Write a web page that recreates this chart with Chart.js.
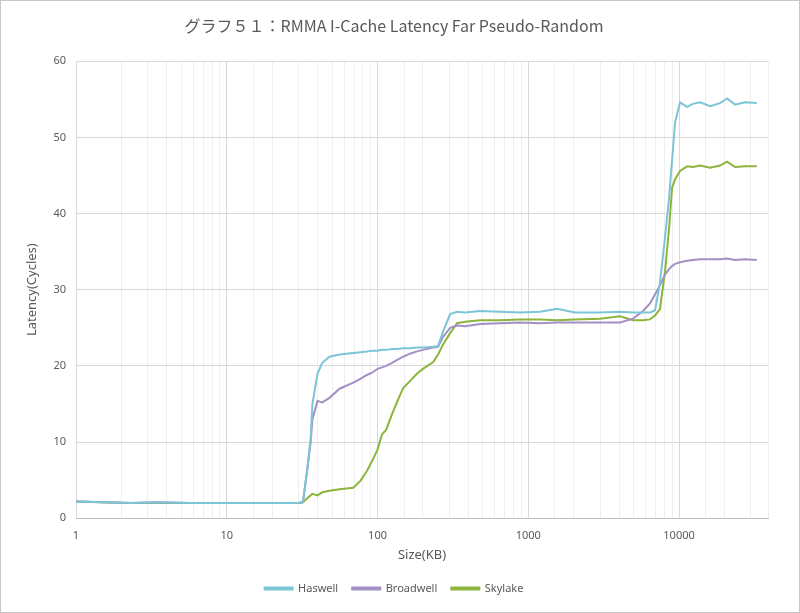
<!DOCTYPE html>
<html>
<head>
<meta charset="utf-8">
<script src="https://cdn.jsdelivr.net/npm/chart.js"></script>
<style>
  body { margin: 0; background: #fff; }
  #wrap { width: 800px; height: 613px; }
</style>
</head>
<body>
<div id="wrap"><canvas id="latencyChart" width="800" height="613"></canvas></div>
<script>
const sizesKB = [1, 1.5, 2.3, 3.5, 5.7, 10, 16, 26, 30, 32, 34, 36, 37, 40, 43, 48, 56, 69, 77, 85,
  92, 100, 107, 114, 125, 135, 148, 164, 183, 200, 234, 252, 272, 303, 337, 381, 479, 649, 882, 1200,
  1550, 2040, 2990, 4060, 4950, 5770, 6420, 6930, 7480, 8080, 8580, 8990, 9410, 10150, 11300, 12380,
  13780, 16060, 18710, 20820, 23520, 27400, 32768];

const haswell = [2.2, 2.1, 2.0, 2.1, 2.0, 2.0, 2.0, 2.0, 2.0, 2.1, 6, 10.5, 15, 19, 20.4, 21.2, 21.5, 21.7, 21.8, 21.9,
  22.0, 22.0, 22.1, 22.1, 22.2, 22.2, 22.3, 22.3, 22.4, 22.4, 22.5, 22.6, 24.5, 26.8, 27.1, 27.0, 27.2, 27.1, 27.0, 27.1,
  27.5, 27.0, 27.0, 27.1, 27.0, 27.0, 27.0, 27.3, 31, 37, 42, 47, 52, 54.6, 54.0, 54.4,
  54.6, 54.1, 54.5, 55.1, 54.3, 54.6, 54.5];

const broadwell = [2.2, 2.1, 2.0, 2.1, 2.0, 2.0, 2.0, 2.0, 2.0, 2.1, 6, 10, 13, 15.4, 15.2, 15.8, 17, 17.8, 18.3, 18.8,
  19.1, 19.6, 19.8, 20.0, 20.4, 20.8, 21.2, 21.6, 21.9, 22.1, 22.4, 22.5, 23.8, 25.0, 25.3, 25.2, 25.5, 25.6, 25.7, 25.6,
  25.7, 25.7, 25.7, 25.7, 26.2, 27.2, 28.2, 29.4, 30.6, 32.0, 32.7, 33.1, 33.4, 33.6, 33.8, 33.9,
  34.0, 34.0, 34.0, 34.1, 33.9, 34.0, 33.9];

const skylake = [2.2, 2.1, 2.0, 2.0, 2.0, 2.0, 2.0, 2.0, 2.0, 2.1, 2.6, 3.0, 3.2, 3.0, 3.4, 3.6, 3.8, 4.0, 4.9, 6.2,
  7.5, 9.0, 11.0, 11.6, 13.7, 15.3, 17.1, 18.0, 19.0, 19.6, 20.5, 21.5, 22.8, 24.3, 25.6, 25.8, 26.0, 26.0, 26.1, 26.1,
  26.0, 26.1, 26.2, 26.5, 26.0, 26.0, 26.1, 26.6, 27.5, 32.5, 38, 43.4, 44.5, 45.6, 46.2, 46.1,
  46.3, 46.0, 46.3, 46.8, 46.1, 46.2, 46.2];

const seriesNames = ['Haswell', 'Broadwell', 'Skylake'];
const seriesColors = ['#7cc5d6', '#a390c4', '#8db43c'];
const seriesValues = [haswell, broadwell, skylake];

const textColor = '#595959';
const fontFamily = '"Noto Sans", "Noto Sans CJK JP", sans-serif';

const isDecade = (v) => Math.abs(Math.log10(v) - Math.round(Math.log10(v))) < 1e-9;

const frame = {
  id: 'frame',
  afterDraw(chart) {
    const c = chart.ctx;
    c.save();
    c.strokeStyle = '#c8c8c8';
    c.lineWidth = 1;
    c.strokeRect(0.5, 0.5, chart.width - 1, chart.height - 1);
    c.restore();
  }
};

new Chart(document.getElementById('latencyChart').getContext('2d'), {
  type: 'line',
  data: {
    datasets: seriesNames.map((name, i) => ({
      label: name,
      data: sizesKB.map((s, j) => ({ x: s, y: seriesValues[i][j] })),
      borderColor: seriesColors[i],
      backgroundColor: seriesColors[i],
      borderWidth: 2,
      pointRadius: 0,
      tension: 0
    }))
  },
  options: {
    responsive: false,
    animation: false,
    layout: { padding: { left: 20, right: 32, top: 4, bottom: 9 } },
    plugins: {
      title: {
        display: true,
        text: 'グラフ５１：RMMA I-Cache Latency Far Pseudo-Random',
        color: textColor,
        font: { family: '"Noto Sans CJK JP", sans-serif', size: 16, weight: 'normal' },
        padding: { top: 12, bottom: 26 }
      },
      legend: {
        position: 'bottom',
        labels: {
          color: textColor,
          boxWidth: 28,
          boxHeight: 2,
          padding: 14,
          font: { family: fontFamily, size: 11 }
        }
      },
      tooltip: { enabled: false }
    },
    scales: {
      x: {
        type: 'logarithmic',
        min: 1,
        max: 38900,
        afterFit: (s) => { s.height -= 10; },
        title: {
          display: true,
          text: 'Size(KB)',
          color: textColor,
          font: { family: fontFamily, size: 13 },
          padding: { top: 4, bottom: 6 }
        },
        ticks: {
          autoSkip: false,
          maxRotation: 0,
          padding: 11,
          color: textColor,
          font: { family: fontFamily, size: 11 },
          callback: (v) => isDecade(v) ? String(Math.round(v)) : ''
        },
        grid: {
          color: (c) => (c.tick && isDecade(c.tick.value)) ? '#d9d9d9' : '#efefef',
          drawTicks: false
        },
        border: { color: '#bfbfbf' }
      },
      y: {
        min: 0,
        max: 60,
        afterFit: (s) => { s.width = 56; },
        title: {
          display: true,
          text: 'Latency(Cycles)',
          color: textColor,
          font: { family: fontFamily, size: 13 },
          padding: { bottom: 8 }
        },
        ticks: {
          stepSize: 10,
          padding: 10,
          color: textColor,
          font: { family: fontFamily, size: 11 }
        },
        grid: { color: '#d9d9d9', drawTicks: false },
        border: { display: false }
      }
    }
  },
  plugins: [frame]
});
</script>
</body>
</html>
